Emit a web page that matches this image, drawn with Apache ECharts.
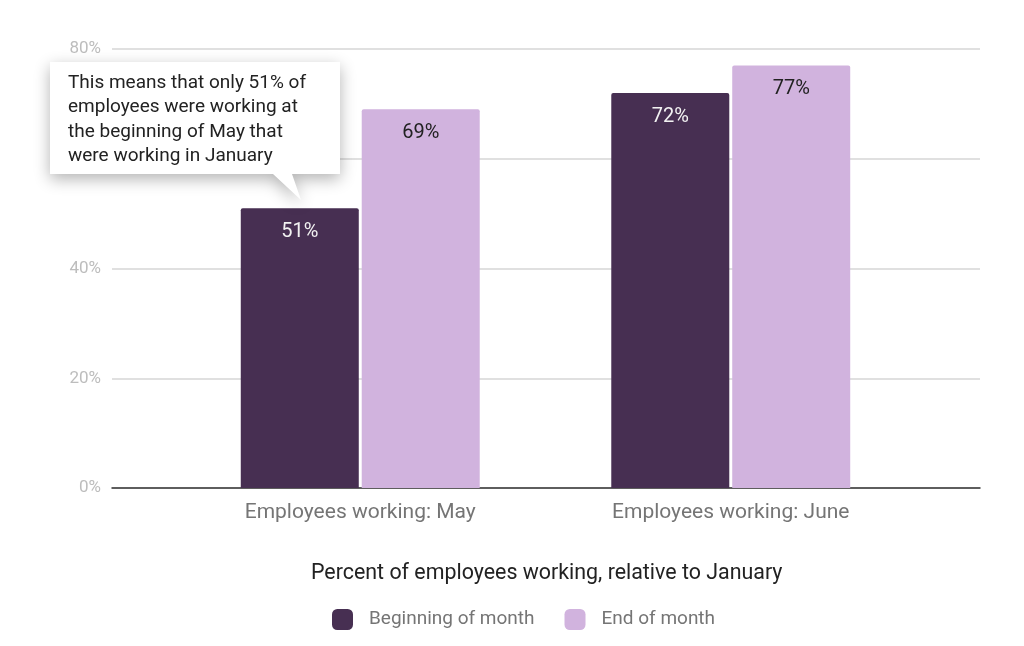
<!DOCTYPE html>
<html>
<head>
    <meta charset="utf-8">
    <title>Employees working</title>
    <script src="https://cdn.jsdelivr.net/npm/echarts@6/dist/echarts.min.js"></script>
    <style>
        html, body { margin: 0; padding: 0; background: #fff; }
        #main { width: 1024px; height: 646px; }
    </style>
</head>
<body>
    <div id="main"></div>
    <script type="text/javascript">
        // chart data
        var categories = ['Employees working: May', 'Employees working: June'];
        var seriesNames = ['Beginning of month', 'End of month'];
        var beginning = [51, 72];
        var endOfMonth = [69, 77];
        var yMin = 0, yMax = 80, yStep = 20;
        var axisTitle = 'Percent of employees working, relative to January';
        var note = 'This means that only 51% of\nemployees were working at\nthe beginning of May that\nwere working in January';

        var font = 'Roboto, "Noto Sans", sans-serif';
        var myChart = echarts.init(document.getElementById('main'));

        var option = {
            animation: false,
            textStyle: { fontFamily: font },
            title: {
                text: axisTitle,
                left: 306,
                top: 558,
                textStyle: { fontSize: 21.4, fontWeight: 'normal', color: '#222', fontFamily: font }
            },
            legend: {
                data: seriesNames,
                left: 327,
                top: 604,
                icon: 'roundRect',
                itemWidth: 21,
                itemHeight: 21,
                itemGap: 30,
                textStyle: { fontSize: 19, color: '#757575', fontFamily: font, padding: [0, 0, 0, 11] }
            },
            grid: [
                // full-width grid for gridlines, y labels and baseline
                { left: 112, right: 44, top: 49, bottom: 158 },
                // narrower grid holding the bars
                { left: 175, right: 108, top: 49, bottom: 158 }
            ],
            xAxis: [
                {
                    gridIndex: 0, type: 'category', data: [''],
                    axisLine: { show: true, lineStyle: { color: '#333', width: 1.5 } },
                    axisTick: { show: false }, axisLabel: { show: false }, splitLine: { show: false }
                },
                {
                    gridIndex: 1, type: 'category', data: categories,
                    axisLine: { show: false }, axisTick: { show: false },
                    axisLabel: { fontSize: 21, color: '#757575', margin: 14, fontFamily: font }
                }
            ],
            yAxis: [
                {
                    gridIndex: 0, type: 'value', min: yMin, max: yMax, interval: yStep,
                    axisLine: { show: false }, axisTick: { show: false },
                    axisLabel: { formatter: '{value}%', fontSize: 17, color: '#bdbdbd', margin: 11, fontFamily: font },
                    splitLine: { lineStyle: { color: '#d6d6d6', width: 1.5 } }
                },
                {
                    gridIndex: 1, type: 'value', min: yMin, max: yMax, interval: yStep, show: false,
                    splitLine: { show: false }
                }
            ],
            series: [
                {
                    name: seriesNames[0], type: 'bar', xAxisIndex: 1, yAxisIndex: 1,
                    data: beginning, barWidth: 118, barGap: '2.5%',
                    itemStyle: { color: '#472f52', borderRadius: [2, 2, 0, 0] },
                    label: {
                        show: true, position: 'insideTop', distance: 14, formatter: '{c}%',
                        fontSize: 20, color: '#f2f2f2', fontFamily: font
                    }
                },
                {
                    name: seriesNames[1], type: 'bar', xAxisIndex: 1, yAxisIndex: 1,
                    data: endOfMonth, barWidth: 118, barGap: '2.5%',
                    itemStyle: { color: '#d1b3de', borderRadius: [2, 2, 0, 0] },
                    label: {
                        show: true, position: 'insideTop', distance: 14, formatter: '{c}%',
                        fontSize: 20, color: '#222', fontFamily: font
                    }
                }
            ],
            graphic: [
                {
                    type: 'polygon', z: 100,
                    shape: { points: [[50, 62], [340, 62], [340, 174], [292, 174], [301, 200], [273, 174], [50, 174]] },
                    style: { fill: '#fff', shadowBlur: 16, shadowColor: 'rgba(0,0,0,0.3)', shadowOffsetY: 5 }
                },
                {
                    type: 'text', z: 101, left: 68, top: 71,
                    style: { text: note, fontSize: 19, lineHeight: 24.3, fill: '#222', fontFamily: font }
                }
            ]
        };

        myChart.setOption(option);
    </script>
</body>
</html>
